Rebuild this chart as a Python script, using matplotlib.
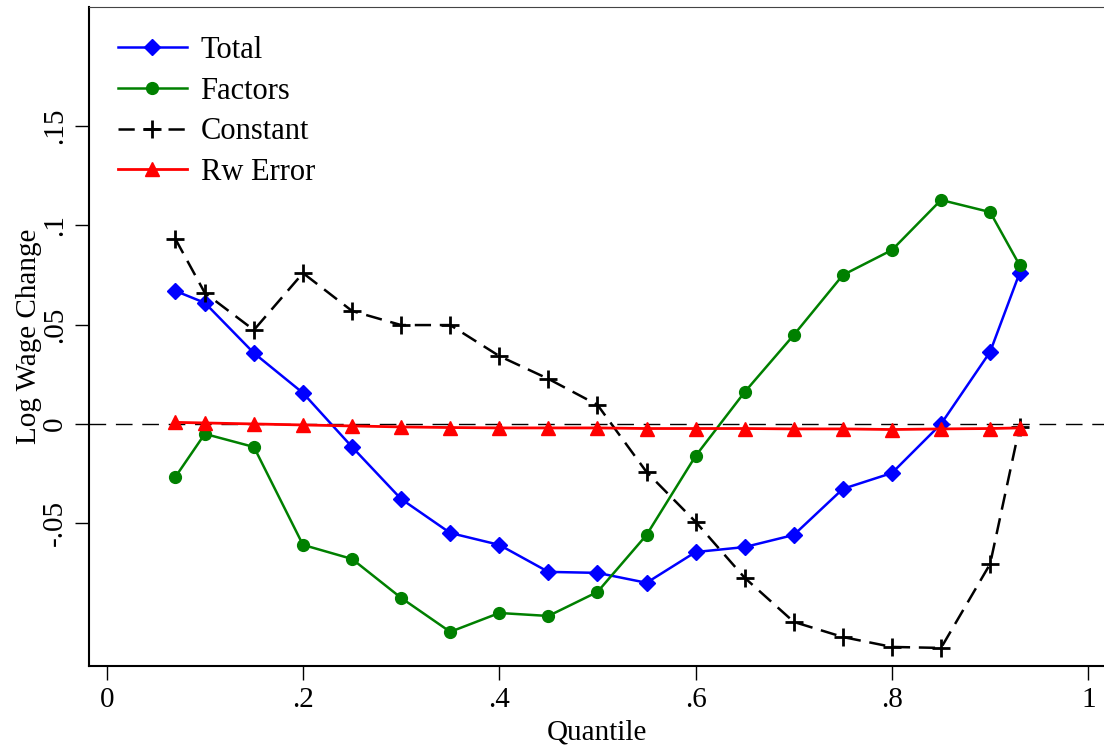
import matplotlib
matplotlib.use('Agg')
import matplotlib.pyplot as plt

# quantiles and series
quantile = [0.07, 0.10, 0.15, 0.20, 0.25, 0.30, 0.35, 0.40, 0.45, 0.50,
            0.55, 0.60, 0.65, 0.70, 0.75, 0.80, 0.85, 0.90, 0.93]
total = [0.067, 0.061, 0.0357, 0.0156, -0.0116, -0.0378, -0.0549, -0.0609, -0.0745, -0.075,
         -0.080, -0.0645, -0.062, -0.0559, -0.0327, -0.0247, 0.0, 0.0363, 0.076]
factors = [-0.0267, -0.005, -0.0116, -0.0609, -0.068, -0.0876, -0.1047, -0.0952, -0.0967, -0.0846,
           -0.0559, -0.0161, 0.0161, 0.0448, 0.075, 0.0876, 0.1128, 0.1067, 0.080]
constant = [0.0932, 0.066, 0.0473, 0.076, 0.0569, 0.0498, 0.0498, 0.0342, 0.0227, 0.0096,
            -0.0242, -0.0493, -0.0775, -0.0997, -0.1073, -0.1123, -0.1128, -0.0705, -0.0015]
rw_error = [0.0008, 0.0005, 0.0, -0.0005, -0.001, -0.0015, -0.0018, -0.002, -0.002, -0.002,
            -0.0023, -0.0023, -0.0023, -0.0025, -0.0025, -0.0028, -0.0025, -0.0023, -0.002]

xticks = [0, 0.2, 0.4, 0.6, 0.8, 1.0]
xticklabels = ['0', '.2', '.4', '.6', '.8', '1']
yticks = [-0.05, 0, 0.05, 0.1, 0.15]
yticklabels = ['-.05', '0', '.05', '.1', '.15']

plt.rcParams['font.family'] = ['Liberation Serif', 'DejaVu Serif']

fig = plt.figure(figsize=(11.04, 7.5), dpi=100)
ax = fig.add_axes([0.0806, 0.112, 0.9194, 0.8787])

ax.axhline(0, color='black', lw=1, dashes=(12, 7), zorder=1)

ax.plot(quantile, total, color='blue', lw=1.8, marker='D', ms=8.5, label='Total', zorder=3)
ax.plot(quantile, factors, color='green', lw=1.8, marker='o', ms=8.5, label='Factors', zorder=3)
ax.plot(quantile, constant, color='black', lw=1.8, marker='+', ms=13, mew=2,
        dashes=(6.5, 3.5), label='Constant', zorder=3)
ax.plot(quantile, rw_error, color='red', lw=2, marker='^', ms=9.5, label='Rw Error', zorder=4)

ax.set_xlim(-0.018, 1.016)
ax.set_ylim(-0.1219, 0.21)
ax.set_xticks(xticks)
ax.set_xticklabels(xticklabels)
ax.set_yticks(yticks)
ax.set_yticklabels(yticklabels, rotation=90, va='center')
ax.tick_params(axis='both', direction='out', length=10, width=1, labelsize=21)
ax.tick_params(axis='x', pad=5)
ax.tick_params(axis='y', pad=5)

ax.spines['right'].set_visible(False)
ax.spines['top'].set_color('#444444')
ax.spines['left'].set_linewidth(1.5)
ax.spines['bottom'].set_linewidth(1.5)

ax.set_xlabel('Quantile', fontsize=21, labelpad=5)
ax.set_ylabel('Log Wage Change', fontsize=21, labelpad=0)

ax.legend(loc='upper left', frameon=False, fontsize=22, handlelength=2.25,
          labelspacing=0.38, borderaxespad=0.3, borderpad=0.65, handletextpad=0.45)

fig.savefig('out.png', dpi=100)
